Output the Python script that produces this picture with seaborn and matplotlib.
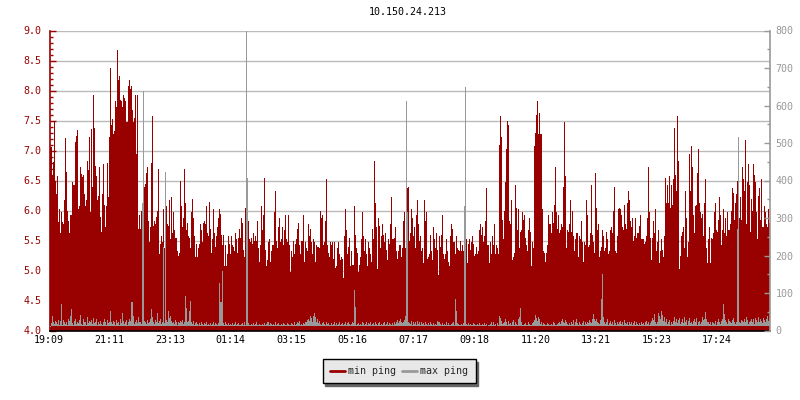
import numpy as np
import pandas as pd
import matplotlib
matplotlib.use("Agg")
import matplotlib.pyplot as plt
from matplotlib.transforms import ScaledTranslation
import seaborn as sns

# min ping (ms, left axis), one value per pixel column
min_ping_a = [7.06,7.06,6.58,6.81,7.5,6.5,6.28,6.58,5.81,6.03,5.62,5.97,5.81,5.78,6.18,7.21,6.65,6.0,5.83,5.62,5.92,5.93,6.48,6.42,6.42,7.14,7.25,7.35,6.02,6.07,6.72,6.61,6.56,6.6,6.27,6.08,6.17,6.83,6.67,7.23,5.98,7.36,6.39,7.92,7.38,6.74,6.57,6.18,6.25,6.73,5.89,5.65,6.27,6.78,6.1,5.73,6.08,6.8,6.22,7.22,8.37,7.43,7.53,7.28,7.33,7.82,7.72,8.68,8.18,8.25,7.85,7.82,7.72,7.92,7.88,7.82,7.47,7.48,8.08,8.17,8.02,8.07,7.67,7.48,7.55,7.93,6.95,7.93,5.7,5.92,5.7,6.0,5.7,5.72,6.4,6.45,6.63,6.73,5.83,5.47,5.73,6.8,7.58,5.75,5.82,5.78,5.9,6.0,6.7,5.27,5.45,5.58,5.47,6.02,5.38,6.04,6.07,5.78,5.75,6.18]
min_ping_b = [5.52,6.22,5.62,5.97,5.68,5.55,5.55,5.33,5.25,5.3,6.5,6.08,5.73,5.88,6.7,6.13,5.67,5.8,5.58,5.55,5.37,5.98,6.2,5.87,5.57,5.23,5.45,5.22,5.37,5.45,5.77,5.67,5.47,5.8,5.82,5.77,6.07,5.63,5.57,6.15,5.7,5.3,5.53,6.03,5.63,5.4,5.58,5.72,5.87,6.02,5.95,5.6,5.42,5.6,5.08,5.43,5.08,5.28,5.58,5.45,5.27,5.57,5.43,5.4,5.33,5.62,5.52,5.3,5.55,5.7,5.55,5.87,5.8,5.35,5.23,6.05,5.17,5.33,5.83,5.52,5.48,5.55,5.45,5.63,5.5,5.57,5.5,5.83,5.37,5.15,5.43,6.07,5.67,5.92,6.55,5.35,5.08,5.17,5.47,5.52,5.15,5.32,5.42,5.43,5.97,6.33,5.5,5.37,5.72,5.88,5.48,5.52,5.73,5.42,5.68,5.92,5.52,5.47,5.92,5.43]
min_ping_c = [4.98,5.32,5.22,5.5,5.27,5.45,5.52,5.7,5.8,5.43,5.28,5.5,5.5,5.92,5.15,5.47,5.37,5.33,5.77,5.57,5.7,5.47,5.28,5.52,5.47,5.15,5.43,5.4,5.4,5.37,6.0,5.87,5.93,5.43,5.47,5.83,6.53,5.43,5.3,5.22,5.48,5.43,5.47,5.2,5.48,5.05,5.08,5.38,5.47,5.27,5.18,5.22,5.2,4.88,5.57,6.02,5.68,5.27,5.4,5.55,5.07,5.33,5.1,5.1,6.07,5.6,5.37,5.3,4.97,5.1,5.22,5.53,5.97,5.57,5.33,5.52,5.28,5.08,5.48,5.38,5.28,5.15,5.7,5.53,6.82,6.12,5.72,5.03,5.88,5.75,5.38,5.58,5.77,5.6,5.48,5.62,5.35,5.17,5.52,5.45,5.77,6.23,5.52,5.52,5.55,5.73,5.32,5.2,5.32,5.43,5.43,5.23,5.37,5.83,5.97,5.37,5.67,6.38,6.4,5.5]
min_ping_d = [5.62,6.02,5.88,5.57,5.72,5.37,5.93,6.17,5.77,5.5,5.58,5.33,5.38,5.13,6.18,5.83,5.97,5.2,5.23,5.28,5.6,5.33,5.18,5.72,5.53,5.38,5.62,5.35,4.93,5.58,5.4,5.6,5.92,5.28,5.2,5.28,5.52,5.33,5.15,5.08,5.58,5.77,5.7,5.48,5.48,5.28,5.57,5.38,5.35,5.33,5.5,5.33,5.43,5.32,5.33,5.33,5.52,5.13,5.45,5.52,5.35,5.47,5.58,5.45,5.25,5.28,5.4,5.27,5.33,5.67,5.78,5.6,5.73,5.47,5.58,5.83,6.38,5.42,5.42,5.12,5.47,5.27,5.57,5.43,5.78,5.28,5.43,5.38,5.27,7.1,7.58,7.22,5.85,5.52,6.0,6.47,7.02,7.5,7.43,5.83,5.77,6.18,5.17,5.22,5.3,6.43,6.05,5.68,6.03,5.37,5.65,5.67,5.97,5.85,5.93,5.55,5.42,5.32,5.67,5.88]
min_ping_e = [5.65,5.08,5.48,5.38,7.08,7.3,7.6,7.83,7.28,7.62,7.27,7.28,6.02,5.33,5.3,5.15,5.3,5.42,5.93,5.77,5.78,5.63,5.98,5.8,6.1,6.73,5.97,5.7,5.93,5.62,5.68,5.77,5.72,6.4,7.48,6.57,5.38,5.68,5.65,5.78,6.17,5.65,6.0,5.57,5.32,5.52,5.63,5.62,5.22,5.58,5.52,5.83,5.47,5.15,5.47,5.43,6.18,5.93,5.4,5.43,5.63,6.42,5.6,5.47,5.3,6.63,6.05,5.67,5.78,5.22,5.32,5.4,5.67,5.57,5.33,5.37,5.65,5.53,5.27,5.32,5.68,5.72,5.62,6.0,6.4,5.32,5.3,5.57,6.03,6.05,6.03,5.92,5.72,5.68,6.1,5.77,5.7,6.13,6.32,6.18,5.82,5.72,5.87,5.5,5.57,5.88,5.55,5.63,5.62,5.75,5.93,5.53,5.52,5.52,5.45,5.47,5.57,5.88,6.72,5.97]
min_ping_f = [5.55,5.18,5.55,5.83,5.62,6.03,5.33,5.48,5.67,5.13,5.32,5.53,5.35,5.22,5.58,6.55,6.13,6.43,6.12,6.57,6.05,6.42,6.1,6.53,7.38,6.6,6.32,7.57,6.82,5.03,5.25,5.58,5.65,5.72,5.38,6.32,5.88,5.23,5.48,6.95,6.33,7.08,6.73,5.92,5.62,6.07,6.1,6.63,7.02,6.12,5.97,5.88,5.95,5.58,6.12,6.52,5.38,5.13,5.53,5.73,5.13,5.55,5.52,5.63,5.97,6.12,5.67,5.65,5.85,6.23,5.92,5.43,5.68,6.02,5.62,5.87,5.58,5.98,5.68,5.68,5.78,6.0,6.38,6.3,5.85,6.13,6.28,6.5,5.67,5.87,6.23,5.85,6.73,6.52,6.33,7.18,5.77,6.48,6.77,6.43,5.65,6.2,6.0,6.77,6.6,6.48,5.98,5.52,6.25,6.37,5.85,6.53,5.72,5.73,6.08,5.98,5.77,5.72,6.02,5.8]

# max ping (ms, right axis)
max_ping_a = [10,20,40,24,18,26,22,18,28,16,26,72,16,28,22,18,24,14,30,26,38,58,20,14,26,30,18,24,20,28,41,18,16,30,22,24,14,36,20,26,22,28,18,34,20,24,30,16,24,18,26,18,14,24,30,22,16,28,20,24,53,24,18,26,22,16,28,20,24,14,30,20,47,26,18,22,28,16,24,30,26,77,75,40,18,24,28,20,35,24,22,18,340,640,26,22,18,28,20,24,30,57,36,24,18,28,22,47,20,26,30,18,24,224,20,424,28,22,53,34]
max_ping_b = [38,26,20,24,18,28,22,16,24,20,26,22,28,18,24,91,60,22,26,51,80,24,18,26,16,20,22,18,14,20,16,22,18,14,20,18,22,16,18,14,20,16,18,22,14,20,18,16,20,128,75,75,160,20,16,22,18,14,20,16,18,14,20,16,18,22,14,18,20,16,14,18,20,16,22,16,800,408,20,16,14,18,16,20,14,18,22,16,14,18,14,16,18,14,20,16,18,22,24,16,20,18,14,18,16,22,14,18,20,16,14,18,16,20,18,14,16,20,18,14]
max_ping_c = [16,20,18,14,22,16,18,24,20,26,16,18,14,20,18,24,22,28,30,26,38,34,24,40,48,36,22,30,20,26,18,16,20,24,18,16,22,18,20,16,14,20,16,18,22,16,20,14,18,24,16,18,20,14,18,22,16,20,24,18,14,18,24,20,109,64,16,18,20,14,18,16,22,20,14,18,24,16,20,18,22,14,18,20,16,24,18,14,20,22,16,18,14,20,24,16,18,22,14,20,18,16,20,14,22,18,24,28,20,26,30,22,20,24,28,40,611,317,24,20]
max_ping_d = [18,26,14,22,18,24,16,26,18,22,16,24,18,20,14,22,18,16,20,14,22,18,14,20,16,18,14,26,22,24,18,16,20,14,18,16,22,14,20,16,14,18,20,22,16,84,53,20,18,14,16,18,14,20,333,650,18,14,20,16,18,14,16,20,18,14,16,18,14,20,16,14,18,16,20,14,18,12,16,14,18,22,14,24,16,18,12,20,16,40,34,26,18,20,24,30,22,16,26,18,20,14,22,28,16,24,18,14,30,37,60,22,16,14,18,20,16,14,22,18]
max_ping_e = [14,16,20,22,28,42,34,26,36,30,18,24,16,20,18,14,16,20,18,14,16,18,14,22,20,16,14,18,20,24,18,26,30,24,20,28,22,18,14,20,16,24,18,28,14,22,30,20,16,24,18,14,20,26,16,22,18,24,20,28,24,20,30,44,30,26,30,22,20,18,28,84,150,36,24,18,22,30,16,20,26,18,24,16,28,20,14,22,18,24,26,18,22,16,28,20,18,24,14,22,18,24,16,20,26,14,22,18,16,20,14,22,18,20,16,24,26,18,22,14]
max_ping_f = [20,26,34,28,43,22,18,24,47,40,30,53,42,26,36,22,30,18,24,28,16,22,18,26,36,24,32,20,28,34,18,24,30,20,36,22,28,16,26,34,20,24,18,26,30,22,34,16,22,26,18,24,36,28,32,50,30,22,24,18,22,16,24,20,18,26,14,22,30,24,18,26,30,71,45,28,22,18,30,26,24,20,28,34,22,18,24,270,517,24,20,28,26,22,30,24,36,28,18,24,26,32,22,30,18,34,28,24,36,22,30,26,20,34,28,24,30,38,26,32]

x_ticks = [0.5, 61, 122, 182, 243, 304, 365, 426, 487, 547, 608, 668]
x_labels = ["19:09", "21:11", "23:13", "01:14", "03:15", "05:16",
            "07:17", "09:18", "11:20", "13:21", "15:23", "17:24"]

min_ping = min_ping_a + min_ping_b + min_ping_c + min_ping_d + min_ping_e + min_ping_f
max_ping = max_ping_a + max_ping_b + max_ping_c + max_ping_d + max_ping_e + max_ping_f
df_min = pd.DataFrame({"t": np.arange(len(min_ping)), "v": min_ping})
df_max = pd.DataFrame({"t": np.arange(len(max_ping)), "v": max_ping})

RED = "#990000"
GRAY = "#999999"
FONT = "DejaVu Sans Mono"
SIZE = 7.2
GRAY_FLOOR = 13  # the gray bars stop short of the axis, red shows below them

sns.set_style("white")
plt.rcParams["font.family"] = [FONT]

fig = plt.figure(figsize=(8, 4), dpi=100)
ax = fig.add_axes([50 / 800, 1 - 330.5 / 400, 720 / 800, 300 / 400])

sns.barplot(data=df_min, x="t", y="v", native_scale=True, width=1, color=RED,
            saturation=1, linewidth=0, ax=ax)
for p in ax.patches:
    p.set_antialiased(False)
ax.set_xlim(-0.5, 719.5)
ax.set_ylim(4, 9)
ax.set_xlabel("")
ax.set_ylabel("")
ax.set_axisbelow(True)
ax.yaxis.grid(True, which="major", color="#bbbbbb", linewidth=1)
ax.xaxis.grid(False)

ax.set_yticks(np.arange(4, 9.01, 0.5))
ax.set_yticklabels([f"{v:.1f}" for v in np.arange(4, 9.01, 0.5)])
ax.set_yticks(np.arange(4, 9.01, 0.1), minor=True)
ax.tick_params(axis="y", which="major", direction="in", length=4, width=1,
               color=RED, labelcolor=RED, labelsize=SIZE, pad=6, left=True)
ax.tick_params(axis="y", which="minor", direction="in", length=2.5, width=1,
               color=RED, left=True)
ax.set_xticks(x_ticks)
ax.set_xticklabels(x_labels)
ax.tick_params(axis="x", direction="in", length=3, width=1, color="black",
               labelcolor="black", labelsize=SIZE, pad=3, bottom=True)
# labels sit a little left of their ticks
for lab in ax.get_xticklabels():
    lab.set_transform(lab.get_transform() + ScaledTranslation(-2 / 100, 0, fig.dpi_scale_trans))

ax2 = ax.twinx()
sns.barplot(data=df_max, x="t", y="v", native_scale=True, width=1, color=GRAY,
            saturation=1, linewidth=0, ax=ax2)
for p in ax2.patches:
    h = p.get_height()
    p.set_y(GRAY_FLOOR)
    p.set_height(h - GRAY_FLOOR)
    p.set_antialiased(False)
ax2.set_xlim(-0.5, 719.5)
ax2.set_ylim(0, 800)
ax2.set_xlabel("")
ax2.set_ylabel("")
ax2.grid(False)
ax2.patch.set_visible(False)
ax2.set_yticks(np.arange(0, 801, 100))
ax2.set_yticks(np.arange(0, 801, 50), minor=True)
ax2.tick_params(axis="y", which="major", direction="in", length=4, width=1,
                color=GRAY, labelcolor=GRAY, labelsize=SIZE, pad=4, right=True, left=False)
ax2.tick_params(axis="y", which="minor", direction="in", length=2.5, width=1,
                color=GRAY, right=True, left=False)

for a in (ax, ax2):
    a.spines["top"].set_visible(False)
ax.spines["right"].set_visible(False)
ax2.spines["left"].set_visible(False)
ax2.spines["bottom"].set_visible(False)
ax.spines["left"].set_color(RED)
ax.spines["left"].set_linewidth(1.2)
ax.spines["bottom"].set_color("black")
ax.spines["bottom"].set_linewidth(1.2)
ax2.spines["right"].set_color(GRAY)
ax2.spines["right"].set_linewidth(1.2)

fig.text(408 / 800, 1 - 12 / 400, "10.150.24.213", ha="center", va="center",
         fontsize=SIZE, color="black")

handles = [plt.Line2D([], [], color=RED, lw=2), plt.Line2D([], [], color=GRAY, lw=2)]
leg = fig.legend(handles, ["min ping", "max ping"], ncol=2, loc="center",
                 bbox_to_anchor=(399 / 800, 1 - 371 / 400), prop={"size": SIZE},
                 fancybox=False, framealpha=1, facecolor="#e8e8e8", edgecolor="black",
                 shadow={"color": "#666666", "alpha": 1, "ox": 2, "oy": -2},
                 handlelength=1.5, handletextpad=0.4, columnspacing=0.5,
                 borderpad=0.7, borderaxespad=0)
leg.get_frame().set_linewidth(1)

plt.savefig("out.png", dpi=100)
